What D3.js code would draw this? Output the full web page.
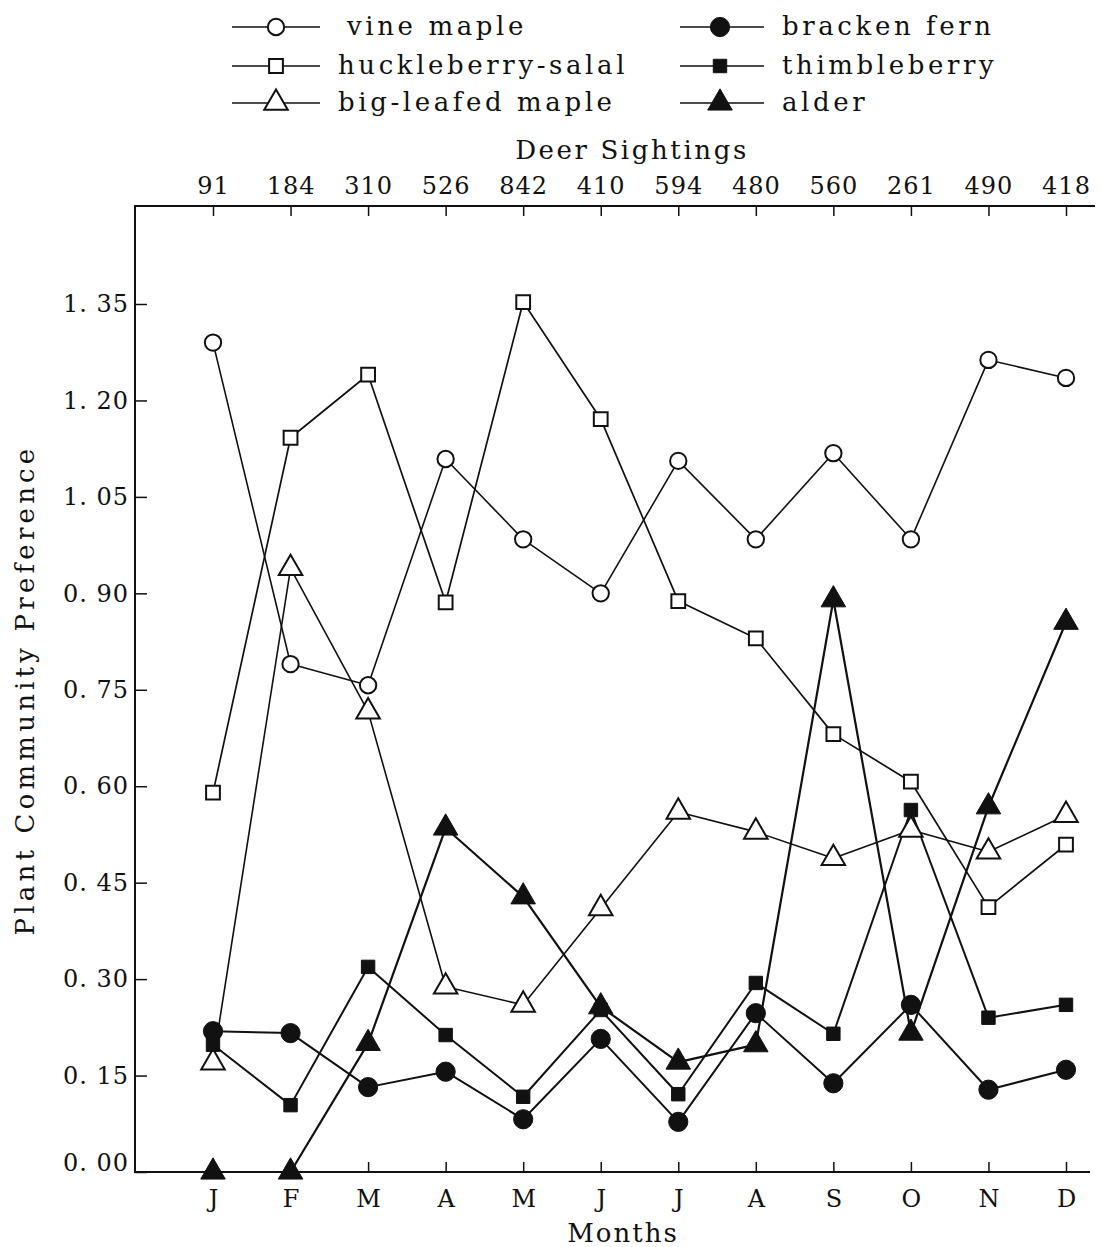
<!DOCTYPE html>
<html>
<head>
<meta charset="utf-8">
<script src="https://cdn.jsdelivr.net/npm/d3@7"></script>
<style>
  body { margin: 0; background: #fff; }
  svg text { font-family: "DejaVu Serif", serif; fill: #111; }
</style>
</head>
<body>
<svg id="chart" width="1101" height="1247"></svg>
<script>
// months along the bottom, deer sightings along the top
var months = ["J", "F", "M", "A", "M", "J", "J", "A", "S", "O", "N", "D"];
var deerSightings = [91, 184, 310, 526, 842, 410, 594, 480, 560, 261, 490, 418];
var yTicks = [0, 0.15, 0.30, 0.45, 0.60, 0.75, 0.90, 1.05, 1.20, 1.35];

// plant community preference values
var vineMaple = [1.29, 0.79, 0.757, 1.109, 0.984, 0.90, 1.106, 0.984, 1.118, 0.984, 1.263, 1.235];
var huckleberrySalal = [0.59, 1.142, 1.24, 0.886, 1.353, 1.171, 0.888, 0.83, 0.681, 0.607, 0.412, 0.509];
var bigLeafedMaple = [0.17, 0.939, 0.716, 0.288, 0.26, 0.41, 0.56, 0.529, 0.488, 0.532, 0.498, 0.555];
var brackenFern = [0.219, 0.216, 0.132, 0.156, 0.082, 0.207, 0.078, 0.247, 0.138, 0.26, 0.128, 0.159];
var thimbleberry = [0.198, 0.104, 0.319, 0.213, 0.117, 0.252, 0.121, 0.294, 0.215, 0.563, 0.24, 0.26];
var alder = [0.0, 0.0, 0.20, 0.535, 0.428, 0.257, 0.171, 0.198, 0.89, 0.216, 0.568, 0.855];

var series = [
  { name: "vine maple", values: vineMaple, shape: d3.symbolCircle, size: 210, filled: false, width: 1.6 },
  { name: "huckleberry-salal", values: huckleberrySalal, shape: d3.symbolSquare, size: 190, filled: false, width: 1.7 },
  { name: "big-leafed maple", values: bigLeafedMaple, shape: d3.symbolTriangle, size: 240, filled: false, width: 1.6 },
  { name: "bracken fern", values: brackenFern, shape: d3.symbolCircle, size: 290, filled: true, width: 2 },
  { name: "thimbleberry", values: thimbleberry, shape: d3.symbolSquare, size: 180, filled: true, width: 2 },
  { name: "alder", values: alder, shape: d3.symbolTriangle, size: 260, filled: true, width: 2.2 }
];

var svg = d3.select("#chart");

var plotLeft = 135, plotRight = 1095, plotTop = 206, plotBottom = 1172;

var x = d3.scalePoint()
    .domain(d3.range(months.length))
    .range([213, 1066]);

var y = d3.scaleLinear()
    .domain([0, 1.35])
    .range([plotBottom, 304]);

// frame lines (top, left, bottom)
svg.append("path")
    .attr("d", "M" + plotRight + "," + plotTop + "H" + plotLeft + "V" + plotBottom + "H" + (plotRight - 5))
    .attr("fill", "none")
    .attr("stroke", "#111")
    .attr("stroke-width", 2);

// bottom axis: months
var xAxis = d3.axisBottom(x)
    .tickSize(-10)
    .tickPadding(18)
    .tickFormat(function(d) { return months[d]; });
var gx = svg.append("g")
    .attr("transform", "translate(0," + plotBottom + ")")
    .call(xAxis);
gx.select(".domain").remove();
gx.selectAll("line").attr("stroke", "#111").attr("stroke-width", 1.5);
gx.selectAll("text").style("font-size", "24px").attr("fill", "#111");

// top axis: deer sightings
var xTop = d3.axisTop(x)
    .tickSize(-10)
    .tickPadding(12)
    .tickFormat(function(d) { return deerSightings[d]; });
var gt = svg.append("g")
    .attr("transform", "translate(0," + plotTop + ")")
    .call(xTop);
gt.select(".domain").remove();
gt.selectAll("line").attr("stroke", "#111").attr("stroke-width", 1.5);
gt.selectAll("text")
    .style("font-size", "24px")
    .style("letter-spacing", "1px")
    .attr("fill", "#111");

// left axis: preference
var yAxis = d3.axisLeft(y)
    .tickValues(yTicks)
    .tickSize(-12)
    .tickPadding(6)
    .tickFormat(function(d) { return d3.format(".2f")(d).replace(".", ". "); });
var gy = svg.append("g")
    .attr("transform", "translate(" + plotLeft + ",0)")
    .call(yAxis);
gy.select(".domain").remove();
gy.selectAll("line").attr("stroke", "#111").attr("stroke-width", 1.5);
gy.selectAll("text")
    .style("font-size", "24px")
    .style("letter-spacing", "1px")
    .attr("fill", "#111")
    .attr("dy", function(d) { return d === 0 ? "-0.05em" : "0.32em"; });

// axis titles
svg.append("text")
    .attr("x", 632).attr("y", 150)
    .attr("dy", "0.35em")
    .attr("text-anchor", "middle")
    .style("font-size", "26px")
    .style("letter-spacing", "2.6px")
    .text("Deer Sightings");

svg.append("text")
    .attr("x", 623).attr("y", 1233)
    .attr("dy", "0.35em")
    .attr("text-anchor", "middle")
    .style("font-size", "26px")
    .style("letter-spacing", "2px")
    .text("Months");

svg.append("text")
    .attr("transform", "translate(25,690) rotate(-90)")
    .attr("dy", "0.35em")
    .attr("text-anchor", "middle")
    .style("font-size", "26px")
    .style("letter-spacing", "4.2px")
    .text("Plant Community Preference");

// lines
var line = d3.line()
    .x(function(d, i) { return x(i); })
    .y(function(d) { return y(d); });

svg.selectAll(".series-line")
    .data(series)
    .enter()
    .append("path")
    .attr("class", "series-line")
    .attr("d", function(s) { return line(s.values); })
    .attr("fill", "none")
    .attr("stroke", "#111")
    .attr("stroke-width", function(s) { return s.width; })
    .attr("stroke-linejoin", "round");

// markers
var symbolPath = function(s) { return d3.symbol().type(s.shape).size(s.size)(); };

series.forEach(function(s) {
  svg.append("g")
      .selectAll("path")
      .data(s.values)
      .enter()
      .append("path")
      .attr("transform", function(d, i) { return "translate(" + x(i) + "," + y(d) + ")"; })
      .attr("d", symbolPath(s))
      .attr("fill", s.filled ? "#111" : "#fff")
      .attr("stroke", "#111")
      .attr("stroke-width", s.filled ? 1 : 2);
});

// legend
var legendRows = [27, 66, 103];
var legend = svg.append("g");
series.forEach(function(s, i) {
  var col = i < 3 ? 0 : 1;
  var ly = legendRows[i % 3];
  var x0 = col === 0 ? 232 : 680;
  var x1 = col === 0 ? 320 : 764;
  var mx = col === 0 ? 276 : 720;
  var tx = col === 0 ? 338 : 782;
  legend.append("line")
      .attr("x1", x0).attr("x2", x1)
      .attr("y1", ly).attr("y2", ly)
      .attr("stroke", "#111")
      .attr("stroke-width", 1.6);
  legend.append("path")
      .attr("transform", "translate(" + mx + "," + ly + ")")
      .attr("d", symbolPath(s))
      .attr("fill", s.filled ? "#111" : "#fff")
      .attr("stroke", "#111")
      .attr("stroke-width", s.filled ? 1 : 2);
  legend.append("text")
      .attr("x", i === 0 ? tx + 9 : tx)
      .attr("y", ly)
      .attr("dy", "0.32em")
      .style("font-size", "26px")
      .style("letter-spacing", "3.6px")
      .text(s.name);
});
</script>
</body>
</html>
